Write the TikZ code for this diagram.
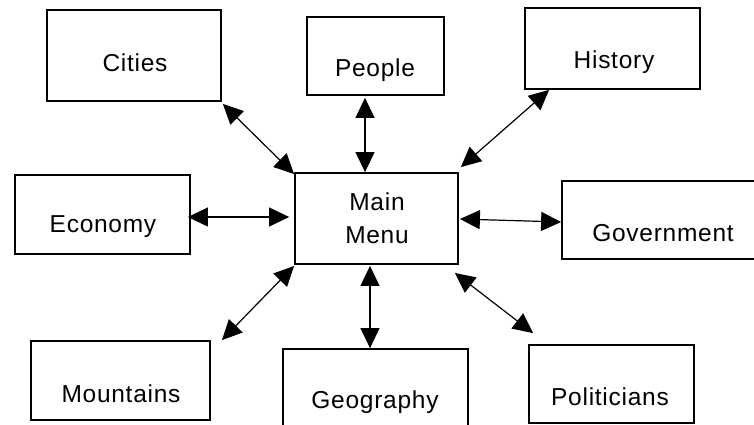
\documentclass[tikz,border=0pt]{standalone}
\usepackage{fontspec}
\setmainfont{Liberation Sans}[LetterSpace=3]
\usetikzlibrary{arrows.meta,calc}
\tikzset{
  box/.style={draw=black, line width=1.8pt, rectangle, inner sep=0pt, fill=white},
  lbl/.style={font=\fontsize{24.5}{33}\selectfont, align=center, inner sep=0pt},
  link/.style={line width=1.2pt, {Triangle[length=20pt,width=19pt]}-{Triangle[length=20pt,width=19pt]}}
}
\begin{document}
\begin{tikzpicture}[x=1pt,y=-1pt]
\clip (0,0) rectangle (754,424);
\fill[white] (0,0) rectangle (754,424);
% boxes
\node[box, minimum width=174pt, minimum height=91pt] (Cities) at (134,55.5) {};
\node[box, minimum width=137pt, minimum height=78pt] (People) at (375.5,56) {};
\node[box, minimum width=175pt, minimum height=81pt] (History) at (612.5,48.5) {};
\node[box, minimum width=175pt, minimum height=79pt] (Economy) at (102.5,214.5) {};
\node[box, minimum width=163pt, minimum height=91pt] (Main) at (376.5,218.5) {};
\node[box, minimum width=204pt, minimum height=78pt] (Government) at (664,220) {};
\node[box, minimum width=179pt, minimum height=79pt] (Mountains) at (120.5,380.5) {};
\node[box, minimum width=185pt, minimum height=80pt] (Geography) at (375.5,389) {};
\node[box, minimum width=165pt, minimum height=78pt] (Politicians) at (611.5,384) {};
% texts
\node[lbl] (tCities) at (135,63) {Cities};
\node[lbl] (tPeople) at (375,70) {People};
\node[lbl] (tHistory) at (614,62) {History};
\node[lbl] (tEconomy) at (103,227) {Economy};
\node[lbl] (tMain) at (377,218.5) {Main\\Menu};
\node[lbl] (tGovernment) at (663,233) {Government};
\node[lbl] (tMountains) at (121,394) {Mountains};
\node[lbl] (tGeography) at (375,402) {Geography};
\node[lbl] (tPoliticians) at (610,397) {Politicians};
% connectors
\draw[link] ($(Cities.south east)+(1,2)$) -- ($(Main.north west)+(0,2)$);
\draw[link] ($(People.south)+(-10.5,2)$) -- ($(Main.north)+(-11.5,0)$);
\draw[link] ($(History.south west)+(25,0)$) -- ($(Main.north east)+(2,-5)$);
\draw[link] ($(Economy.east)+(-3,2.5)$) -- ($(Main.west)+(-5,-1.5)$);
\draw[link] ($(Main.east)+(1,0.5)$) -- ($(Government.west)+(0,2)$);
\draw[link] ($(Mountains.north east)+(11,0)$) -- ($(Main.south west)+(0,1)$);
\draw[link] ($(Main.south)+(-6.5,1)$) -- ($(Geography.north)+(-5.5,0)$);
\draw[link] ($(Main.south east)+(-4,8)$) -- ($(Politicians.north west)+(5,-11)$);
\end{tikzpicture}
\end{document}
